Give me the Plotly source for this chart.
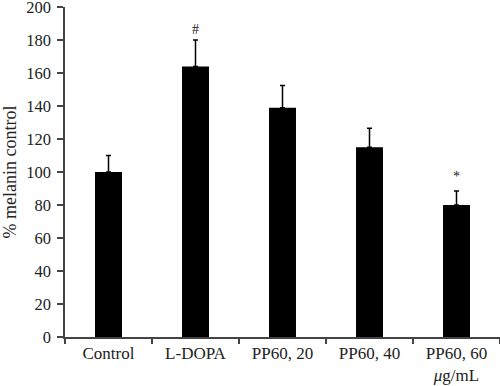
import plotly.graph_objects as go

categories = ["Control", "L-DOPA", "PP60, 20", "PP60, 40", "PP60, 60<br><i>μ</i>g/mL"]
values = [100, 164, 139, 115, 80]
errors = [10, 16, 13.5, 11.5, 8.5]
marks = ["", "#", "", "", "*"]
mark_offsets = [0, 6, 0, 0, 8]
y_ticks = [0, 20, 40, 60, 80, 100, 120, 140, 160, 180, 200]

FONT = "Liberation Serif"

fig = go.Figure()
fig.add_trace(go.Bar(
    x=categories, y=values, width=0.31,
    marker=dict(color="black", line=dict(color="black", width=0)),
    error_y=dict(type="data", symmetric=False, array=errors,
                 arrayminus=[0] * len(values), color="black",
                 thickness=1.5, width=2.5),
))
fig.add_trace(go.Scatter(
    x=categories, y=[v + e + o for v, e, o in zip(values, errors, mark_offsets)],
    mode="text", text=marks, textfont=dict(family=FONT, size=14, color="#222"),
    hoverinfo="skip", showlegend=False,
))

fig.update_layout(
    width=500, height=386,
    margin=dict(l=65, r=0, t=7, b=49),
    plot_bgcolor="white", paper_bgcolor="white",
    showlegend=False,
    font=dict(family=FONT, size=17, color="#222"),
    xaxis=dict(
        showline=True, linecolor="#444", linewidth=1.5, automargin=False,
        ticks="outside", tickson="boundaries", ticklen=5, tickcolor="#444",
        tickwidth=1.5, showgrid=False, tickfont=dict(size=17),
        ticklabeloverflow="allow",
    ),
    yaxis=dict(
        range=[0, 200], tickvals=y_ticks, showline=True, linecolor="#444",
        linewidth=1.5, ticks="outside", ticklen=6, tickcolor="#444", tickwidth=1.5,
        showgrid=False, zeroline=False, tickfont=dict(size=16.5), automargin=False,
        ticklabeloverflow="allow", ticklabelstandoff=3,
        title=dict(text="% melanin control", font=dict(size=18), standoff=10),
    ),
)

fig.write_html("out.html", config={"displayModeBar": False},
               post_script="document.body.style.margin='0';")
